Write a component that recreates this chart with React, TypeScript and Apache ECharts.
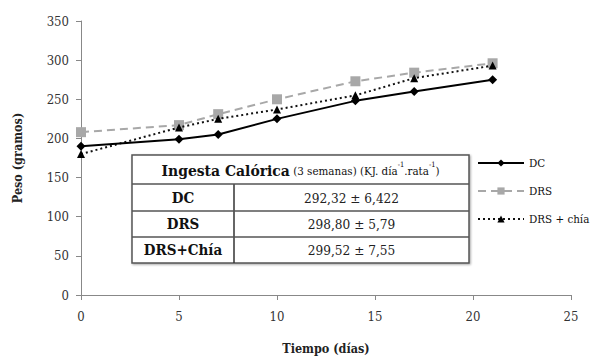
import React, { useEffect, useRef } from "react";
import * as echarts from "echarts";

const days = [0, 5, 7, 10, 14, 17, 21];
const dcValues = [190, 199, 205, 225, 248, 260, 275];
const drsValues = [208, 217, 231, 250, 273, 284, 296];
const chiaValues = [180, 214, 225, 237, 255, 277, 293];
const seriesNames = ["DC", "DRS", "DRS + chía"];

const tableRows = ["DC", "DRS", "DRS+Chía"];
const tableValues = ["292,32 ± 6,422", "298,80 ± 5,79", "299,52 ± 7,55"];

const FONT = "'DejaVu Serif Condensed', 'DejaVu Serif'";

function pairs(ys: number[]) {
  return days.map((d, i) => [d, ys[i]]);
}

export default function App() {
  const ref = useRef<HTMLDivElement>(null);
  useEffect(() => {
    if (!ref.current) return;
    const chart = echarts.init(ref.current, undefined, { renderer: "svg" });

    const tL = 132, tR = 469, tT = 155, colX = 234;
    const rowEdges = [184, 211, 237, 263];
    const tableGraphics: any[] = [
      {
        type: "rect",
        shape: { x: tL, y: tT, width: tR - tL, height: rowEdges[3] - tT },
        style: { fill: "#fff", stroke: "#555", lineWidth: 1.5, shadowBlur: 2, shadowColor: "rgba(0,0,0,0.35)", shadowOffsetX: 1, shadowOffsetY: 1 },
        z: 100,
      },
      {
        type: "line",
        shape: { x1: colX, y1: rowEdges[0], x2: colX, y2: rowEdges[3] },
        style: { stroke: "#333", lineWidth: 1.5 },
        z: 101,
      },
      ...rowEdges.slice(0, 3).map((y) => ({
        type: "line",
        shape: { x1: tL, y1: y, x2: tR, y2: y },
        style: { stroke: "#555", lineWidth: 1.5 },
        z: 101,
      })),
      {
        type: "text",
        x: (tL + tR) / 2,
        y: (tT + rowEdges[0]) / 2 + 1,
        style: {
          text: "{b|Ingesta Calórica} {s|(3 semanas) (KJ. día}{sup|-1}{s|.rata}{sup|-1}{s|)}",
          align: "center",
          verticalAlign: "middle",
          fill: "#000",
          rich: {
            b: { fontFamily: FONT, fontWeight: "bold", fontSize: 15.5, fill: "#111", lineHeight: 20 },
            s: { fontFamily: FONT, fontSize: 11.5, fill: "#111", lineHeight: 20 },
            sup: { fontFamily: FONT, fontSize: 7.5, fill: "#111", verticalAlign: "top", lineHeight: 14 },
          },
        },
        z: 102,
      },
      ...tableRows.map((r, i) => ({
        type: "text",
        x: (tL + colX) / 2,
        y: (rowEdges[i] + rowEdges[i + 1]) / 2,
        style: {
          text: r,
          align: "center",
          verticalAlign: "middle",
          fontFamily: FONT,
          fontWeight: "bold",
          fontSize: 15,
          fill: "#111",
        },
        z: 102,
      })),
      ...tableValues.map((v, i) => ({
        type: "text",
        x: (colX + tR) / 2,
        y: (rowEdges[i] + rowEdges[i + 1]) / 2,
        style: {
          text: v,
          align: "center",
          verticalAlign: "middle",
          fontFamily: FONT,
          fontSize: 13.5,
          fill: "#222",
        },
        z: 102,
      })),
    ];

    chart.setOption({
      animation: false,
      backgroundColor: "#fff",
      grid: { left: 81, right: 20, top: 21, bottom: 65, containLabel: false },
      xAxis: {
        type: "value",
        min: 0,
        max: 25,
        interval: 5,
        name: "Tiempo (días)",
        nameLocation: "middle",
        nameGap: 47,
        nameTextStyle: { fontFamily: FONT, fontWeight: "bold", fontSize: 12.5, color: "#222" },
        axisLine: { lineStyle: { color: "#888", width: 1 } },
        axisTick: { show: true, length: 5, lineStyle: { color: "#888" } },
        axisLabel: { fontFamily: FONT, fontSize: 13, color: "#333", margin: 15 },
        splitLine: { show: false },
      },
      yAxis: {
        type: "value",
        min: 0,
        max: 350,
        interval: 50,
        name: "Peso (gramos)",
        nameLocation: "middle",
        nameGap: 57,
        nameRotate: 90,
        nameTextStyle: { fontFamily: FONT, fontWeight: "bold", fontSize: 12.5, color: "#222" },
        axisLine: { show: true, lineStyle: { color: "#888", width: 1 } },
        axisTick: { show: true, length: 5, lineStyle: { color: "#888" } },
        axisLabel: { fontFamily: FONT, fontSize: 13, color: "#333", margin: 12 },
        splitLine: { show: false },
      },
      legend: {
        orient: "vertical",
        left: 472,
        top: 152,
        itemWidth: 46,
        itemHeight: 9,
        itemGap: 16,
        textStyle: { fontFamily: FONT, fontSize: 11.5, color: "#111" },
        data: seriesNames,
      },
      series: [
        {
          name: seriesNames[0],
          type: "line",
          data: pairs(dcValues),
          symbol: "diamond",
          symbolSize: 9,
          lineStyle: { color: "#000", width: 2 },
          itemStyle: { color: "#000" },
          z: 4,
        },
        {
          name: seriesNames[1],
          type: "line",
          data: pairs(drsValues),
          symbol: "rect",
          symbolSize: 10,
          lineStyle: { color: "#a8a8a8", width: 2, type: [8, 5] },
          itemStyle: { color: "#a8a8a8" },
          z: 2,
        },
        {
          name: seriesNames[2],
          type: "line",
          data: pairs(chiaValues),
          symbol: "triangle",
          symbolSize: 8,
          lineStyle: { color: "#111", width: 2, type: [2, 3] },
          itemStyle: { color: "#000" },
          z: 3,
        },
      ],
      graphic: tableGraphics,
    });
    return () => chart.dispose();
  }, []);
  return (
    <div
      ref={ref}
      style={{ position: "fixed", left: 0, top: 0, width: 591, height: 360 }}
    />
  );
}
